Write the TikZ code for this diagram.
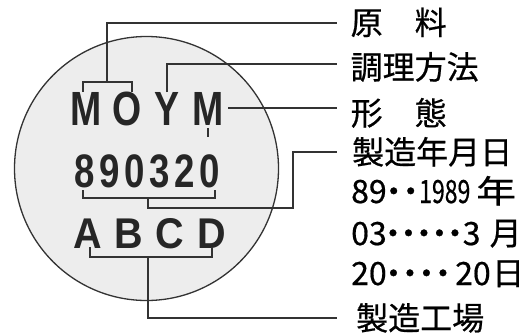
\documentclass[tikz,border=0pt]{standalone}
\usepackage{fontspec}
\newfontfamily\cjkfont{Noto Sans CJK JP}[FakeBold=0.6]
\newfontfamily\stampfont{Liberation Sans Bold}
\newcommand\stl[2]{\makebox[#1]{\scalebox{0.78}[1]{#2}}}
\newcommand\dt[1]{\makebox[#1]{・}}
\tikzset{
  conn/.style={draw=black!80, line width=1.3pt},
  lbl/.style={font=\cjkfont\fontsize{32}{32}\selectfont, anchor=base west, inner sep=0pt, text=black},
  stamp/.style={anchor=base, inner sep=0pt, text=black!85},
  disc/.style={circle, draw=black!80, line width=1.3pt, fill=black!7, minimum size=264pt, inner sep=0pt},
}
\begin{document}
\begin{tikzpicture}[x=1pt,y=-1pt]
\useasboundingbox (0,0) rectangle (532,332);
\fill[white] (0,0) rectangle (532,332);
\node[disc] (stampdisc) at (146.5,168.5) {};
% stamp texts
\node[stamp, font=\stampfont\fontsize{48}{48}\selectfont] (moym) at (147,125)
  {\stl{40.5pt}{M}\stl{40.5pt}{O}\stl{40.5pt}{Y}\stl{40.5pt}{M}};
\node[stamp, font=\stampfont\fontsize{47}{47}\selectfont] (date) at (146.8,187)
  {\stl{25pt}{8}\stl{25pt}{9}\stl{25pt}{0}\stl{25pt}{3}\stl{25pt}{2}\stl{25pt}{0}};
\node[stamp, font=\stampfont\fontsize{43}{43}\selectfont] (abcd) at (149.4,248)
  {\makebox[41.3pt]{\scalebox{0.92}[1]{A}}\makebox[41.3pt]{\scalebox{0.92}[1]{B}}\makebox[41.3pt]{\scalebox{0.92}[1]{C}}\makebox[41.3pt]{\scalebox{0.92}[1]{D}}};
% labels
\node[lbl] (l1) at (350.5,34.5) {原　料};
\node[lbl] (l2) at (350.5,79) {調理方法};
\node[lbl] (l3) at (350.5,125) {形　態};
\node[lbl] (l4) at (352,164) {製造年月日};
\node[lbl] (l5) at (351,203) {\makebox[34pt][l]{89}\dt{17pt}\dt{17pt}\makebox[57pt][l]{\scalebox{0.72}[1]{1989}}\scalebox{1.25}[1]{年}};
\node[lbl] (l6) at (351,245) {\makebox[34pt][l]{03}\dt{15.5pt}\dt{15.5pt}\dt{15.5pt}\dt{15.5pt}\dt{15.5pt}\makebox[27pt][l]{3}月};
\node[lbl] (l7) at (351,285) {\makebox[34pt][l]{20}\dt{16.5pt}\dt{16.5pt}\dt{16.5pt}\dt{16.5pt}\hspace{4pt}\makebox[37pt][l]{20}日};
\node[lbl] (l8) at (356,330) {製造工場};
% connector points
\coordinate (e1) at (337,23);
\coordinate (e2) at (337,64);
\coordinate (e3) at (337,108);
\coordinate (e4) at (337,152);
\coordinate (e5) at (337,318);
\coordinate (b1a) at (83,92);
\coordinate (b1b) at (132,92);
\coordinate (b1m) at (107,82);
\coordinate (b2) at (167,92);
\coordinate (b3) at (228,108);
\coordinate (b4a) at (83,190);
\coordinate (b4b) at (215,190);
\coordinate (b4m) at (148,198);
\coordinate (b4r) at (293,208);
\coordinate (b5a) at (90,247);
\coordinate (b5b) at (212,247);
\coordinate (b5m) at (148,257);
\coordinate (tk1) at (208,128);
\coordinate (tk2) at (208,137);
% connectors
\draw[conn] (b1a) -- (b1a |- b1m) -- (b1b |- b1m) -- (b1b);
\draw[conn] (b1m) |- (e1);
\draw[conn] (b2) |- (e2);
\draw[conn] (b3) -- (e3);
\draw[conn] (b4a) -- (b4a |- b4m) -- (b4b |- b4m) -- (b4b);
\draw[conn] (b4m) |- (b4r) |- (e4);
\draw[conn] (b5a) -- (b5a |- b5m) -- (b5b |- b5m) -- (b5b);
\draw[conn] (b5m) |- (e5);
\draw[conn] (tk1) -- (tk2);
\end{tikzpicture}
\end{document}
